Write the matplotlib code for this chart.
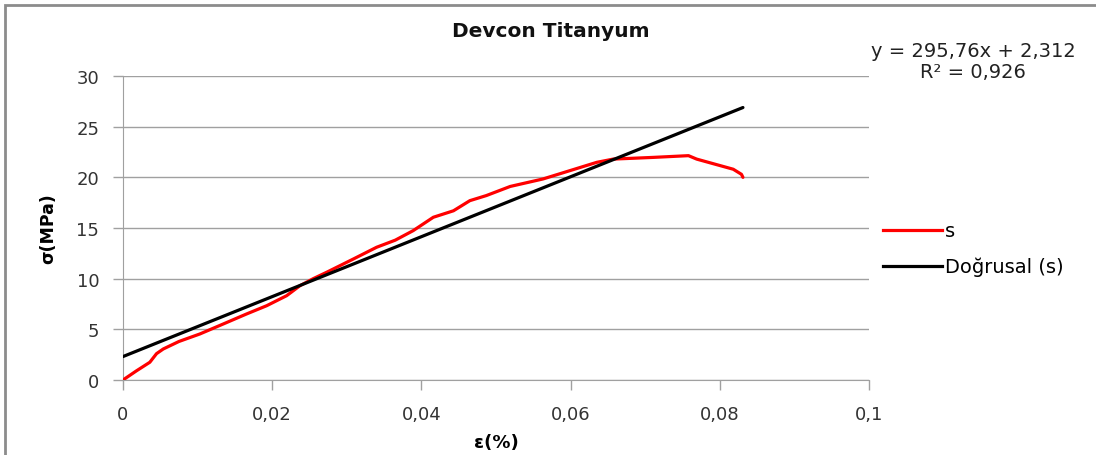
import matplotlib.pyplot as plt
from matplotlib.lines import Line2D
from matplotlib.patches import Rectangle
import numpy as np

# strain (%) and stress (MPa)
strain = [0.0, 0.0018, 0.0036, 0.0045, 0.0054, 0.0075, 0.0103, 0.01345, 0.01658,
          0.01926, 0.02194, 0.02373, 0.0255, 0.0273, 0.03088, 0.034, 0.0365, 0.0389,
          0.0416, 0.0443, 0.0465, 0.0487, 0.0519, 0.0563, 0.0599, 0.0635, 0.0657,
          0.0711, 0.0758, 0.0769, 0.0818, 0.0829, 0.0831]
stress = [0.0, 0.9, 1.75, 2.6, 3.06, 3.8, 4.54, 5.53, 6.52,
          7.33, 8.32, 9.31, 10.0, 10.63, 11.94, 13.1, 13.8, 14.74,
          16.06, 16.7, 17.7, 18.2, 19.1, 19.84, 20.66, 21.48, 21.8,
          21.97, 22.14, 21.8, 20.8, 20.3, 20.0]

slope = 295.76
intercept = 2.312
r2 = 0.926

plt.rcParams['font.family'] = ['DejaVu Sans']

fig = plt.figure(figsize=(10.96, 4.56), dpi=100)
ax = fig.add_axes([0.1122, 0.1645, 0.6807, 0.6666])

fit_x = np.array([0.0, max(strain)])
fit_y = slope * fit_x + intercept

ax.plot(strain, stress, color='#ff0000', lw=2.3, solid_capstyle='round', zorder=3)
ax.plot(fit_x, fit_y, color='black', lw=2.3, solid_capstyle='round', zorder=4)

ax.set_xlim(0, 0.1)
ax.set_ylim(0, 30)
ax.set_xticks(np.arange(0, 0.1001, 0.02))
ax.set_yticks(np.arange(0, 31, 5))
ax.set_xticklabels(['0', '0,02', '0,04', '0,06', '0,08', '0,1'])
ax.grid(axis='y', color='#a0a0a0', lw=1)
ax.set_axisbelow(True)
for s in ['top', 'right']:
    ax.spines[s].set_visible(False)
for s in ['left', 'bottom']:
    ax.spines[s].set_color('#a0a0a0')
ax.tick_params(axis='both', colors='#a0a0a0', labelcolor='#333333', labelsize=13,
               length=7, width=1)
ax.tick_params(axis='x', pad=11)
ax.tick_params(axis='y', pad=10)

ax.set_xlabel('ε(%)', fontsize=13, fontweight='bold', labelpad=7)
ax.set_ylabel('σ(MPa)', fontsize=12.5, fontweight='bold', labelpad=14)

fig.text(0.503, 0.93, 'Devcon Titanyum', ha='center', va='center',
         fontsize=14.5, fontweight='bold', color='#111111')
fig.text(0.888, 0.887, 'y = 295,76x + 2,312', ha='center', va='center',
         fontsize=14, color='#222222')
fig.text(0.888, 0.842, 'R² = 0,926', ha='center', va='center',
         fontsize=14, color='#222222')

handles = [Line2D([], [], color='#ff0000', lw=2.3),
           Line2D([], [], color='black', lw=2.3)]
fig.legend(handles, ['s', 'Doğrusal (s)'], loc='center left',
           bbox_to_anchor=(0.79, 0.452), frameon=False, fontsize=14,
           handlelength=3.0, handletextpad=0.15, labelspacing=0.85)

fig.patches.append(Rectangle((5 / 1096, -0.1), 1.2, 1.1 - 6 / 456,
                             transform=fig.transFigure, fill=False,
                             edgecolor='#8c8c8c', lw=2))

fig.savefig('out.png', dpi=100)
